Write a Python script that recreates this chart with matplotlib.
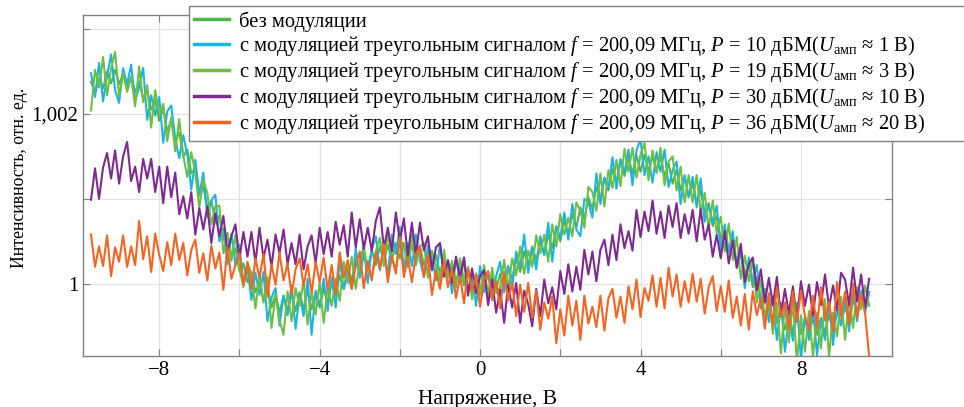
import numpy as np
import matplotlib
matplotlib.use('Agg')
import matplotlib.pyplot as plt
from matplotlib.ticker import FixedLocator, FixedFormatter

plt.rcParams['font.family'] = ['Liberation Serif', 'DejaVu Serif']
plt.rcParams['mathtext.fontset'] = 'custom'
plt.rcParams['mathtext.rm'] = 'Liberation Serif'
plt.rcParams['mathtext.it'] = 'Liberation Serif:italic'

# === данные: напряжение, В (шаг 0.1) ===
voltage = np.round(np.arange(-9.7, 9.71, 0.1), 2)

# отклонение интенсивности от 1, в единицах 1e-3 отн. ед.
no_mod = [2.38, 2.25, 2.42, 2.30, 2.50, 2.36, 2.52, 2.35, 2.47, 2.32,
          2.44, 2.25, 2.38, 2.18, 2.27, 2.05, 2.16, 1.92, 2.06, 1.80,
          1.92, 1.68, 1.78, 1.50, 1.58, 1.30, 1.36, 1.08, 1.14, 0.90,
          0.98, 0.72, 0.80, 0.52, 0.60, 0.33, 0.42, 0.15, 0.24, 0.02,
          0.14, -0.10, 0.02, -0.20, -0.04, -0.28, -0.12, -0.34, -0.14, -0.32,
          -0.12, -0.32, -0.10, -0.30, -0.08, -0.30, -0.10, -0.28, -0.06, -0.22,
          0.02, -0.14, 0.10, -0.06, 0.18, 0.04, 0.28, 0.12, 0.34, 0.18,
          0.40, 0.22, 0.44, 0.26, 0.46, 0.28, 0.48, 0.30, 0.48, 0.28,
          0.46, 0.26, 0.44, 0.22, 0.38, 0.18, 0.34, 0.12, 0.30, 0.08,
          0.24, 0.02, 0.20, -0.02, 0.16, -0.06, 0.12, -0.08, 0.10, -0.10,
          0.10, -0.08, 0.12, -0.04, 0.20, 0.06, 0.30, 0.14, 0.38, 0.22,
          0.44, 0.28, 0.50, 0.34, 0.58, 0.42, 0.66, 0.50, 0.74, 0.58,
          0.82, 0.66, 0.90, 0.76, 1.02, 0.88, 1.14, 1.00, 1.25, 1.10,
          1.35, 1.20, 1.45, 1.27, 1.48, 1.30, 1.51, 1.32, 1.52, 1.32,
          1.51, 1.31, 1.50, 1.26, 1.42, 1.18, 1.34, 1.10, 1.26, 1.02,
          1.18, 0.94, 1.10, 0.83, 0.95, 0.68, 0.80, 0.53, 0.66, 0.39,
          0.52, 0.25, 0.38, 0.11, 0.23, -0.04, 0.08, -0.19, -0.06, -0.33,
          -0.19, -0.46, -0.32, -0.54, -0.35, -0.57, -0.38, -0.59, -0.40, -0.60,
          -0.40, -0.60, -0.40, -0.58, -0.36, -0.54, -0.32, -0.49, -0.26, -0.42,
          -0.18, -0.34, -0.10, -0.30, -0.10]

mod_10dbm = [2.48, 2.20, 2.60, 2.15, 2.45, 2.70, 2.28, 2.13, 2.54, 2.35,
             2.58, 2.15, 2.32, 2.54, 1.93, 2.22, 1.98, 2.20, 1.66, 2.03,
             2.10, 1.71, 1.48, 1.75, 1.52, 1.11, 1.46, 1.04, 1.31, 0.79,
             0.98, 1.05, 0.50, 0.65, 0.23, 0.59, 0.22, 0.46, 0.00, 0.18,
             -0.19, 0.13, -0.13, 0.14, -0.44, -0.16, -0.05, -0.49, -0.14, -0.37,
             -0.02, -0.53, -0.12, -0.38, 0.06, -0.60, -0.08, -0.26, 0.06, -0.32,
             0.08, -0.28, 0.28, -0.06, 0.13, -0.06, 0.42, 0.07, 0.42, 0.01,
             0.41, 0.56, 0.16, 0.41, 0.10, 0.58, 0.35, 0.67, 0.17, 0.48,
             0.21, 0.58, 0.28, 0.08, 0.45, 0.31, 0.04, 0.48, 0.08, 0.25,
             -0.11, 0.30, 0.02, 0.30, -0.08, 0.10, -0.26, 0.21, -0.10, 0.14,
             -0.19, 0.09, 0.26, -0.10, 0.21, -0.06, 0.38, 0.20, 0.58, 0.13,
             0.42, 0.17, 0.56, 0.34, 0.72, 0.26, 0.68, 0.54, 0.84, 0.52,
             0.94, 0.64, 0.56, 1.00, 0.96, 0.78, 1.30, 0.94, 1.25, 1.12,
             1.49, 1.12, 1.47, 1.31, 1.58, 1.16, 1.57, 1.70, 1.28, 1.50,
             1.19, 1.55, 1.32, 1.58, 1.14, 1.34, 1.44, 0.94, 1.28, 1.02,
             1.26, 0.90, 1.24, 0.73, 0.93, 0.72, 0.92, 0.39, 0.70, 0.37,
             0.62, 0.19, 0.38, -0.05, 0.31, 0.02, 0.22, -0.29, -0.08, -0.45,
             -0.15, -0.66, -0.22, -0.80, -0.39, -0.67, -0.22, -0.89, -0.38, -0.66,
             -0.28, -0.84, -0.42, -0.66, -0.20, -0.72, -0.28, -0.49, -0.16, -0.56,
             -0.12, -0.44, -0.08, -0.34, -0.10]

mod_19dbm = [2.04, 2.52, 2.31, 2.67, 2.22, 2.54, 2.73, 2.21, 2.48, 2.26,
             2.44, 2.09, 2.56, 2.14, 2.34, 1.84, 2.28, 1.98, 2.12, 1.68,
             1.96, 1.56, 1.94, 1.51, 1.26, 1.55, 1.30, 0.90, 1.22, 1.07,
             0.70, 0.91, 0.92, 0.36, 0.59, 0.27, 0.58, 0.18, -0.04, 0.26,
             0.11, -0.29, 0.11, -0.22, 0.08, -0.52, -0.13, -0.43, -0.60, -0.09,
             -0.44, -0.05, -0.26, 0.04, -0.48, -0.10, -0.36, 0.02, -0.46, -0.04,
             -0.26, 0.06, -0.20, 0.26, 0.01, 0.32, -0.06, 0.27, 0.44, 0.15,
             0.09, 0.38, 0.54, 0.21, 0.60, 0.30, 0.17, 0.53, 0.43, 0.20,
             0.59, 0.22, 0.44, 0.48, 0.07, 0.39, 0.20, 0.04, 0.40, 0.07,
             0.27, -0.04, 0.30, 0.04, 0.20, -0.18, 0.12, -0.13, 0.22, -0.20,
             0.19, -0.11, -0.04, 0.28, -0.07, 0.30, 0.10, 0.44, 0.12, 0.39,
             0.20, 0.57, 0.36, 0.58, 0.26, 0.70, 0.44, 0.82, 0.58, 0.78,
             0.56, 0.96, 0.86, 0.66, 1.14, 1.08, 0.86, 1.30, 0.91, 1.34,
             1.13, 1.46, 1.15, 1.59, 1.32, 1.60, 1.25, 1.52, 1.66, 1.22,
             1.57, 1.31, 1.60, 1.16, 1.44, 1.50, 1.10, 1.38, 0.96, 1.28,
             0.96, 1.28, 0.84, 1.07, 0.65, 0.98, 0.60, 0.79, 0.38, 0.71,
             0.28, 0.55, 0.06, 0.33, 0.03, 0.28, -0.22, 0.05, -0.42, -0.13,
             -0.59, -0.22, -0.82, -0.24, -0.69, -0.21, -0.92, -0.37, -0.80, -0.32,
             -0.86, -0.34, -0.76, -0.18, -0.86, -0.34, -0.62, -0.15, -0.66, -0.16,
             -0.52, -0.04, -0.30, -0.02, -0.26]

mod_30dbm = [0.99, 1.36, 1.00, 1.37, 1.54, 1.24, 1.57, 1.18, 1.50, 1.67,
             1.21, 1.38, 1.08, 1.47, 1.24, 1.47, 1.08, 1.38, 0.95, 1.38,
             1.02, 1.31, 0.82, 1.03, 0.77, 1.08, 0.58, 0.89, 0.64, 0.91,
             0.48, 0.83, 0.56, 0.80, 0.38, 0.56, 0.70, 0.30, 0.61, 0.32,
             0.61, 0.25, 0.66, 0.30, 0.52, 0.20, 0.58, 0.36, 0.64, 0.23,
             0.48, 0.23, 0.58, 0.17, 0.44, 0.57, 0.24, 0.66, 0.35, 0.61,
             0.32, 0.73, 0.46, 0.69, 0.32, 0.84, 0.43, 0.76, 0.41, 0.66,
             0.39, 0.74, 0.90, 0.42, 0.66, 0.38, 0.84, 0.50, 0.77, 0.33,
             0.72, 0.34, 0.72, 0.39, 0.56, 0.16, 0.43, 0.48, 0.09, 0.28,
             0.01, 0.32, 0.07, 0.31, -0.14, 0.18, -0.11, 0.09, 0.16, -0.25,
             0.05, -0.34, -0.07, -0.46, -0.01, -0.28, 0.01, -0.46, -0.08, -0.24,
             -0.50, -0.06, -0.38, 0.05, -0.23, -0.04, -0.30, 0.15, -0.12, 0.23,
             -0.09, 0.20, -0.07, 0.40, 0.11, 0.38, 0.03, 0.40, 0.52, 0.22,
             0.58, 0.28, 0.70, 0.42, 0.62, 0.39, 0.87, 0.55, 0.85, 0.62,
             0.98, 0.59, 0.85, 0.54, 0.92, 0.67, 0.95, 0.54, 0.82, 0.59,
             0.87, 0.50, 0.88, 0.52, 0.70, 0.32, 0.58, 0.30, 0.62, 0.24,
             0.51, 0.19, 0.47, 0.02, 0.23, 0.31, -0.08, 0.17, -0.22, 0.07,
             -0.25, 0.08, -0.37, -0.06, -0.35, -0.03, -0.42, 0.03, -0.26, -0.01,
             -0.37, 0.02, -0.25, 0.11, -0.28, -0.02, -0.31, 0.13, 0.05, -0.25,
             0.19, -0.21, 0.11, -0.28, 0.06]

mod_36dbm = [0.58, 0.20, 0.44, 0.21, 0.57, 0.09, 0.43, 0.26, 0.57, 0.20,
             0.44, 0.22, 0.74, 0.29, 0.56, 0.14, 0.59, 0.34, 0.15, 0.49,
             0.22, 0.59, 0.28, 0.48, 0.10, 0.40, 0.52, 0.13, 0.36, 0.04,
             0.45, 0.18, 0.37, -0.07, 0.43, 0.06, 0.22, 0.36, -0.01, 0.25,
             -0.06, 0.30, 0.07, 0.35, -0.15, 0.23, -0.01, 0.37, 0.04, 0.24,
             -0.13, 0.17, 0.30, -0.02, 0.23, -0.11, 0.26, 0.02, 0.31, -0.07,
             0.22, -0.12, 0.37, 0.07, 0.28, -0.06, 0.21, 0.38, -0.05, 0.27,
             0.04, 0.37, 0.18, 0.47, 0.02, 0.33, 0.12, 0.55, 0.08, 0.31,
             0.02, 0.35, 0.44, 0.08, 0.33, -0.13, 0.16, -0.06, 0.26, -0.04,
             0.18, -0.17, 0.09, -0.23, 0.18, -0.08, 0.11, -0.27, 0.05, 0.15,
             -0.19, 0.03, -0.29, 0.14, -0.20, 0.01, -0.38, -0.01, -0.33, 0.01,
             -0.40, -0.08, -0.54, -0.22, -0.41, -0.15, -0.70, -0.30, -0.61, -0.14,
             -0.49, -0.20, -0.66, -0.14, -0.47, -0.27, -0.51, -0.14, -0.55, -0.17,
             -0.06, -0.40, -0.15, -0.46, -0.03, -0.30, 0.05, -0.39, -0.05, -0.20,
             0.10, -0.27, 0.07, -0.29, 0.19, -0.15, 0.11, -0.27, 0.03, -0.22,
             0.12, -0.21, 0.06, -0.35, -0.04, 0.09, -0.32, -0.03, -0.33, 0.04,
             -0.40, -0.15, -0.49, -0.12, -0.54, -0.09, -0.37, -0.16, -0.53, -0.11,
             -0.48, -0.04, -0.39, -0.22, -0.54, -0.09, -0.45, -0.08, -0.38, -0.54,
             -0.14, -0.52, -0.04, -0.43, -0.21, -0.56, 0.02, -0.39, -0.09, -0.47,
             0.00, -0.40, -0.12, -0.35, -0.85]

labels = [
    'без модуляции',
    r'с модуляцией треугольным сигналом $f$ = 200,09 МГц, $P$ = 10 дБМ($U_{\mathrm{амп}}$ ≈ 1 В)',
    r'с модуляцией треугольным сигналом $f$ = 200,09 МГц, $P$ = 19 дБМ($U_{\mathrm{амп}}$ ≈ 3 В)',
    r'с модуляцией треугольным сигналом $f$ = 200,09 МГц, $P$ = 30 дБМ($U_{\mathrm{амп}}$ ≈ 10 В)',
    r'с модуляцией треугольным сигналом $f$ = 200,09 МГц, $P$ = 36 дБМ($U_{\mathrm{амп}}$ ≈ 20 В)',
]
colors = ['#4cb848', '#1cb4e3', '#6fbe44', '#7e2a90', '#f26522']
series = [no_mod, mod_10dbm, mod_19dbm, mod_30dbm, mod_36dbm]

# === рисунок ===
fig = plt.figure(figsize=(9.64, 4.07), dpi=100)
ax = fig.add_axes([0.0861, 0.1253, 0.8392, 0.8378])

lines = []
for vals, c, lab in zip(series, colors, labels):
    ln, = ax.plot(voltage, 1 + np.array(vals) / 1000, color=c, lw=1.5, label=lab)
    lines.append(ln)

ax.set_xlim(-9.9, 10.27)
ax.set_ylim(0.99915, 1.003165)

ax.xaxis.set_major_locator(FixedLocator([-8, -6, -4, -2, 0, 2, 4, 6, 8]))
ax.xaxis.set_major_formatter(FixedFormatter(['−8', '', '−4', '', '0', '', '4', '', '8']))
ax.yaxis.set_major_locator(FixedLocator([1.0, 1.001, 1.002, 1.003]))
ax.yaxis.set_major_formatter(FixedFormatter(['1', '', '1,002', '']))

ax.tick_params(direction='in', top=True, right=True, length=5, color='#808080',
               labelsize=15)
ax.grid(True, color='#e3e3e3', lw=0.9)
for s in ax.spines.values():
    s.set_color('#808080')
    s.set_linewidth(1.0)

ax.set_xlabel('Напряжение, В', fontsize=15.5, labelpad=7)
ax.set_ylabel('Интенсивность, отн. ед.', fontsize=12.8)
ax.yaxis.set_label_coords(-0.068, 0.522)

leg = fig.legend(handles=lines, loc='upper left',
                 bbox_to_anchor=(189 / 964, 0, 800 / 964, 1 - 6 / 407), mode='expand',
                 fontsize=14.8, frameon=True, fancybox=False, framealpha=1,
                 edgecolor='#808080', handlelength=1.7, handletextpad=0.5,
                 labelspacing=0.1, borderpad=0.25, borderaxespad=0)
leg.get_frame().set_linewidth(1.0)
for h in leg.legend_handles:
    h.set_linewidth(2.5)

fig.savefig('out.png', dpi=100)
